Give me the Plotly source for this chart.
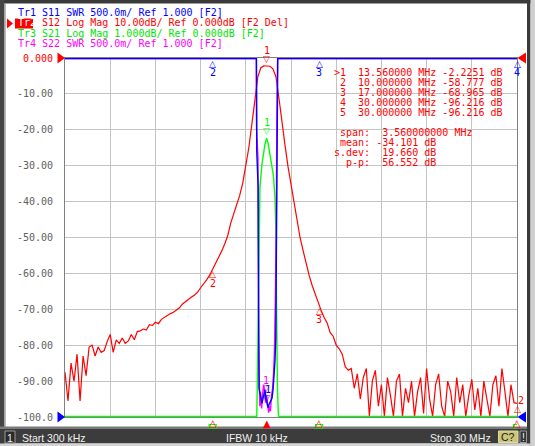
import numpy as np
import plotly.graph_objects as go

# sweep settings
START_MHZ = 0.3
STOP_MHZ = 30.0
N_POINTS = 151

# Tr2 S12 Log Mag, dB, one value per sweep point
s12_db = [
    -87.5, -95.5, -85.0, -90.0, -82.5, -95.5, -83.0, -88.5, -80.5, -80.0,
    -83.0, -80.5, -82.0, -81.5, -79.0, -77.0, -82.0, -78.5, -79.5, -78.0,
    -79.5, -78.8, -77.0, -78.5, -76.2, -76.0, -75.5, -75.8, -74.3, -74.5,
    -73.6, -74.0, -72.8, -72.2, -71.8, -71.2, -70.8, -70.2, -69.6, -68.5,
    -67.8, -67.2, -66.6, -66.0, -65.2, -64.0, -63.0, -61.8, -60.5, -58.8,
    -57.5, -55.8, -53.8, -51.8, -49.5, -46.0, -43.5, -40.8, -38.2, -34.8,
    -30.0, -25.0, -18.5, -11.2, -5.2, -2.7, -2.2, -2.23, -2.3, -3.0,
    -5.2, -11.2, -18.3, -24.2, -30.2, -35.2, -40.2, -45.3, -50.0, -53.6,
    -57.3, -60.5, -63.3, -65.8, -68.3, -70.3, -72.3, -73.8, -76.5, -77.5,
    -80.0, -81.0, -82.5, -86.0, -87.0, -86.5, -92.0, -88.0, -95.0, -89.0,
    -86.5, -101.0, -90.0, -87.0, -97.0, -91.0, -101.0, -89.0, -94.0, -102.0,
    -90.0, -88.0, -100.5, -92.0, -96.0, -90.0, -101.0, -93.0, -89.0, -99.0,
    -86.5, -95.0, -101.0, -91.0, -88.0, -97.0, -102.0, -90.0, -93.0, -100.5,
    -89.0, -96.0, -91.0, -101.0, -94.0, -89.5, -98.0, -92.0, -101.0, -90.0,
    -95.0, -100.5, -91.0, -88.5, -97.0, -86.5, -93.0, -101.0, -91.0, -96.0,
    -96.2,
]

# Tr3 S21 Log Mag, dB (1 dB/div, only the passband is on screen)
s21_freq = [0.3, 12.90, 12.93, 12.96, 13.00, 13.02, 13.05, 13.07, 13.11, 13.23,
            13.33, 13.44, 13.55, 13.66, 13.77, 13.99, 14.10, 14.15, 14.17, 14.19,
            14.22, 14.26, 14.30, 14.33, 30.0]
s21_db = [-40.0, -10.5, -9.3, -8.5, -7.0, -6.0, -5.1, -4.4, -3.6, -3.0,
          -2.7, -2.4, -2.23, -2.4, -2.7, -3.26, -3.9, -4.6, -5.1, -6.5,
          -8.4, -9.2, -9.7, -10.5, -40.0]

# Tr1 S11 SWR
s11_freq = [0.3, 12.88, 12.90, 12.99, 13.02, 13.05, 13.11, 13.18, 13.24, 13.31,
            13.38, 13.44, 13.51, 13.57, 13.64, 13.70, 13.77, 13.83, 13.90, 13.97,
            14.03, 14.10, 14.15, 14.19, 14.21, 14.26, 14.28, 30.0]
s11_swr = [9.0, 9.0, 4.7, 4.2, 2.5, 1.4, 1.33, 1.22, 1.19, 1.26,
           1.32, 1.38, 1.25, 1.17, 1.13, 1.17, 1.21, 1.24, 1.26, 1.38,
           1.52, 1.79, 2.1, 3.4, 5.3, 5.4, 9.0, 9.0]

# Tr4 S22 SWR
s22_freq = [0.3, 12.87, 12.89, 12.98, 13.03, 13.06, 13.10, 13.15, 13.22, 13.28,
            13.35, 13.42, 13.48, 13.55, 13.62, 13.68, 13.74, 13.80, 13.87, 13.94,
            14.00, 14.06, 14.12, 14.18, 14.22, 14.25, 14.27, 30.0]
s22_swr = [9.0, 9.0, 5.0, 4.6, 2.0, 1.55, 1.15, 1.35, 1.12, 1.3,
           1.45, 1.35, 1.2, 1.3, 1.1, 1.06, 1.15, 1.08, 1.3, 1.4,
           1.6, 1.9, 2.6, 3.6, 5.2, 5.6, 9.0, 9.0]

# markers
marker_ids = ["1", "2", "3", "4", "5"]
marker_freq = [13.56, 10.0, 17.0, 30.0, 30.0]
marker_s12 = [-2.2251, -58.777, -68.965, -96.216, -96.216]
marker_s11 = [1.17, 9.0, 9.0, 9.0, 9.0]
marker_s22 = [1.30, 9.0, 9.0, 9.0, 9.0]

stat_names = [" span:", " mean:", "s.dev:", "  p-p:"]
stat_values = [" 3.560000000 MHz", "-34.101 dB", " 19.660 dB", " 56.552 dB"]

y_tick_vals = [0, -10, -20, -30, -40, -50, -60, -70, -80, -90, -100]
y_tick_text = ["0.000", "-10.00", "-20.00", "-30.00", "-40.00", "-50.00",
               "-60.00", "-70.00", "-80.00", "-90.00", "-100.0"]

trace_lines = [
    ("Tr1 S11 SWR 500.0m/ Ref 1.000 [F2]", "#0000ff"),
    ("Tr2 S12 Log Mag 10.00dB/ Ref 0.000dB [F2 Del]", "#ff0000"),
    ("Tr3 S21 Log Mag 1.000dB/ Ref 0.000dB [F2]", "#00e600"),
    ("Tr4 S22 SWR 500.0m/ Ref 1.000 [F2]", "#ff00ff"),
]

RED, GREEN, BLUE, MAGENTA = "#ff0000", "#00ff00", "#0000ff", "#ff00ff"
MONO = "DejaVu Sans Mono"
W, H = 535, 446
L, R, T, B = 65, 517, 58, 417   # plot area in pixels


def px(x):
    return (x - L) / (R - L)


def py(y):
    return (B - y) / (B - T)


def nb(s):
    return s.replace(" ", "\u00a0")


def clip(vals, lo, hi):
    pad = 0.6 * (hi - lo) / (B - T)   # keep clipped parts just inside the grid
    return np.clip(np.asarray(vals, dtype=float), lo + pad, hi - pad)


freq = np.linspace(START_MHZ, STOP_MHZ, N_POINTS)

fig = go.Figure()
fig.add_trace(go.Scatter(x=freq, y=clip(s12_db, -100, 0), mode="lines",
                         line=dict(color=RED, width=1.2), yaxis="y"))
fig.add_trace(go.Scatter(x=s22_freq, y=clip(s22_swr, 1, 6), mode="lines",
                         line=dict(color=MAGENTA, width=1.4), yaxis="y3"))
fig.add_trace(go.Scatter(x=s11_freq, y=clip(s11_swr, 1, 6), mode="lines",
                         line=dict(color=BLUE, width=1.4), yaxis="y3"))
fig.add_trace(go.Scatter(x=s21_freq, y=clip(s21_db, -10, 0), mode="lines",
                         line=dict(color=GREEN, width=1.4), yaxis="y2"))

shapes = []


def box(x0, y0, x1, y1, fill, line=None):
    shapes.append(dict(type="rect", xref="paper", yref="paper",
                       x0=px(x0), x1=px(x1), y0=py(y0), y1=py(y1),
                       fillcolor=fill, line=dict(width=1 if line else 0, color=line or fill),
                       layer="above"))


def tri(points, fill):
    d = "M " + " L ".join(f"{px(a):.5f},{py(b):.5f}" for a, b in points) + " Z"
    shapes.append(dict(type="path", xref="paper", yref="paper", path=d,
                       fillcolor=fill, line=dict(width=0), layer="above"))


# window frame
box(0, 0, W, 3.5, "#3a3a3a")
box(0, 0, 4.5, H, "#454545")
box(4.5, 3.5, 5.8, 427, "#a8a8a8")
box(527, 0, 530.5, H, "#3a3a3a")
box(530.5, 0, W, H, "#d0d0d0")
box(0, 426.5, 527, 429, "#7a7a7a")
box(0, 429, 527, 443.5, "#3c3c3c")
box(0, 443.5, 530.5, H, "#d4d4d4")
box(5, 431, 15, 443, "#2a2a2a", "#9a9a9a")
box(498.5, 431, 518, 442.5, "#cdc57a", "#e0dca0")
box(520, 431, 526.5, 442.5, "#333333", "#9a9a9a")

# active trace tag
box(15, 18.5, 33, 28.5, RED)
tri([(7, 18.5), (13, 23.5), (7, 28.5)], RED)

# reference position arrows at both ends of the grid
tri([(57.5, 52.5), (65, 58), (57.5, 63.5)], RED)
tri([(57.5, 411.5), (65, 417), (57.5, 422.5)], BLUE)
tri([(526, 52.5), (517.5, 58), (526, 63.5)], RED)
tri([(526, 411.5), (517.5, 417), (526, 422.5)], BLUE)

# small green boxes of the clipped S21 markers under the grid
for f in marker_freq[1:4]:
    shapes.append(dict(type="rect", xref="x", yref="paper", xsizemode="pixel",
                       xanchor=f, x0=-3.5, x1=3.5, y0=py(428), y1=py(424.5),
                       line=dict(color=GREEN, width=1.2), fillcolor="rgba(0,0,0,0)",
                       layer="above"))

annotations = []


def text(x, y, s, color, size=10, family=MONO, xanchor="left", xref="paper",
         yref="paper", xshift=0, yshift=0, yanchor="middle"):
    annotations.append(dict(x=x, y=y, xref=xref, yref=yref, text=s, showarrow=False,
                            xanchor=xanchor, yanchor=yanchor, xshift=xshift, yshift=yshift,
                            font=dict(family=family, size=size, color=color)))


# trace status lines
for i, (s, c) in enumerate(trace_lines):
    label = nb(s)
    if i == 1:
        label = '<span style="color:#ffffff">Tr2</span>' + label[3:]
    text(px(15.5), py(12.5 + 10.3 * i), label, c)

# marker table
for i, mid in enumerate(marker_ids):
    lead = ">" if i == 0 else " "
    row = f"{lead}{mid}  {marker_freq[i]:9.6f} MHz {marker_s12[i]:.5g} dB"
    text(px(332), py(72.7 + 9.9 * i), nb(row), RED)
for i, (n, v) in enumerate(zip(stat_names, stat_values)):
    text(px(332), py(132.3 + 10 * i), nb(n + " " + v), RED)

# status bar
SANS = "Liberation Sans"
text(px(10.2), py(437.5), "1", "#f0f0f0", size=10.5, family=SANS, xanchor="center")
text(px(20), py(437.5), "Start 300 kHz", "#f0f0f0", size=10.5, family=SANS)
text(px(257), py(437.5), "IFBW 10 kHz", "#f0f0f0", size=10.5, family=SANS, xanchor="center")
text(px(493), py(437.5), "Stop 30 MHz", "#f0f0f0", size=10.5, family=SANS, xanchor="right")
text(px(508.3), py(437), "C?", "#202020", size=10.5, family=SANS, xanchor="center")
text(px(523.2), py(437), "!", "#f0f0f0", size=10.5, family=SANS, xanchor="center")

# marker glyphs on the traces
GLY = "DejaVu Sans"


def glyph(f, v, yref, color, num, active, num_dx=0):
    if active:
        text(f, v, "\u25bd", color, size=9, family=GLY, xanchor="center",
             xref="x", yref=yref, yshift=7)
        text(f, v, num, color, size=10, xanchor="center", xref="x", yref=yref,
             xshift=num_dx, yshift=15)
    else:
        text(f, v, "\u25b3", color, size=9, family=GLY, xanchor="center",
             xref="x", yref=yref, yshift=-5)
        text(f, v, num, color, size=10, xanchor="center", xref="x", yref=yref,
             xshift=num_dx, yshift=-14)


s12_show = clip(marker_s12, -100, 0)
s11_show = clip(marker_s11, 1, 6)
s22_show = clip(marker_s22, 1, 6)
s21_show = clip(marker_s12, -10, 0)

for i in range(3):
    glyph(marker_freq[i], s12_show[i], "y", RED, marker_ids[i], i == 0)
glyph(marker_freq[0], s21_show[0], "y2", GREEN, marker_ids[0], True)
glyph(marker_freq[0], s22_show[0], "y3", MAGENTA, marker_ids[0], True, num_dx=-1)
glyph(marker_freq[0], s11_show[0], "y3", BLUE, marker_ids[0], True, num_dx=1)
for i in (1, 2, 3):
    glyph(marker_freq[i], s11_show[i], "y3", BLUE, marker_ids[i], False)
# markers 4/5 share 30 MHz on the red trace
text(marker_freq[4], s12_show[4], "\u25b3", RED, size=9, family=GLY, xanchor="center",
     xref="x", yref="y", yshift=-6)
text(marker_freq[4], s12_show[4], "2", RED, size=10, xanchor="center",
     xref="x", yref="y", xshift=4, yshift=3)

# stimulus indicators under the grid (active marker filled)
for i in range(4):
    text(marker_freq[i], 0, "\u25b2" if i == 0 else "\u25b3", RED, size=10, family=GLY,
         xanchor="center", xref="x", yshift=-6)

grid = "#c4c4c4"
fig.update_layout(
    width=W, height=H,
    margin=dict(l=L, r=W - R, t=T, b=H - B, pad=0),
    paper_bgcolor="#ffffff", plot_bgcolor="#ffffff",
    showlegend=False, hovermode=False,
    xaxis=dict(range=[START_MHZ, STOP_MHZ], tick0=START_MHZ,
               dtick=(STOP_MHZ - START_MHZ) / 10, showticklabels=False,
               showgrid=True, gridcolor=grid, gridwidth=1, zeroline=False,
               showline=True, mirror=True, linecolor="#808080", linewidth=1,
               ticks="", layer="below traces"),
    yaxis=dict(range=[-100, 0], tickvals=y_tick_vals,
               ticktext=['<span style="color:#ff0000">' + y_tick_text[0] + "</span>"] + y_tick_text[1:],
               showgrid=True, gridcolor=grid, gridwidth=1, zeroline=False,
               showline=True, mirror=True, linecolor="#808080", linewidth=1,
               ticks="", ticklabelstandoff=9, layer="below traces",
               tickfont=dict(family=MONO, size=10, color="#606060")),
    yaxis2=dict(range=[-10, 0], overlaying="y", visible=False),
    yaxis3=dict(range=[1, 6], overlaying="y", visible=False),
    shapes=shapes,
    annotations=annotations,
)

# the page's default body margin would push the figure off the window
fig.write_html("out.html", config={"staticPlot": True},
               post_script="document.body.style.margin='0';")
